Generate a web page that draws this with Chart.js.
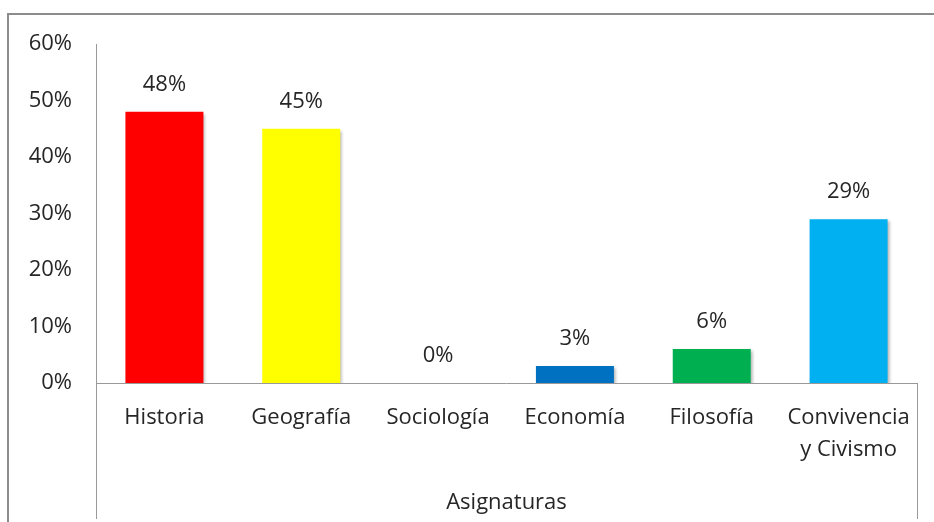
<!DOCTYPE html>
<html><head><meta charset="utf-8">
<script src="https://cdn.jsdelivr.net/npm/chart.js@4/dist/chart.umd.min.js"></script>
<style>html,body{margin:0;padding:0;background:#fff}#wrap{width:934px;height:522px;position:relative}</style>
</head><body><div id="wrap"><canvas id="c" width="934" height="522"></canvas></div>
<script>
const categories = ['Historia','Geografía','Sociología','Economía','Filosofía',['Convivencia','y Civismo']];
const values = [48, 45, 0, 3, 6, 29];
const barColors = ['#FF0000','#FFFF00','#7F7F7F','#0070C0','#00B050','#00B0F0'];
const yTicks = [0,10,20,30,40,50,60];
const axisTitle = 'Asignaturas';
const FONT = '"Open Sans", Lato, sans-serif';
const FS = 22;
const TXT = '#262626';

const framePlugin = {
  id:'frame',
  beforeDraw(chart){
    const ctx=chart.ctx; const a=chart.chartArea;
    ctx.save();
    ctx.strokeStyle='#8c8c8c'; ctx.lineWidth=2;
    ctx.beginPath(); ctx.moveTo(8,chart.height); ctx.lineTo(8,14); ctx.lineTo(chart.width,14); ctx.stroke();
    ctx.strokeStyle='#999'; ctx.lineWidth=1;
    ctx.beginPath();
    ctx.moveTo(a.left+0.5,a.top); ctx.lineTo(a.left+0.5,chart.height-3);
    ctx.moveTo(a.left,a.bottom+0.5); ctx.lineTo(a.right,a.bottom+0.5);
    ctx.moveTo(a.right+0.5,a.bottom); ctx.lineTo(a.right+0.5,chart.height-3);
    ctx.stroke();
    ctx.restore();
  },
  beforeDatasetsDraw(chart){
    const ctx=chart.ctx; ctx.save();
    ctx.shadowColor='rgba(0,0,0,0.3)'; ctx.shadowOffsetX=2; ctx.shadowOffsetY=2; ctx.shadowBlur=3;
  },
  afterDatasetsDraw(chart){
    const ctx=chart.ctx; ctx.restore();
    ctx.save();
    ctx.font=FS+'px '+FONT; ctx.fillStyle=TXT; ctx.textAlign='center'; ctx.textBaseline='middle';
    chart.getDatasetMeta(0).data.forEach((bar,i)=>{
      ctx.fillText(values[i]+'%', bar.x, bar.y-27);
    });
    ctx.restore();
  }
};

new Chart(document.getElementById('c'),{
  type:'bar',
  data:{labels:categories,datasets:[{data:values,backgroundColor:barColors,barPercentage:0.57,categoryPercentage:1}]},
  options:{
    responsive:false,animation:false,
    layout:{padding:{left:0,top:44,right:17,bottom:0}},
    plugins:{legend:{display:false},tooltip:{enabled:false}},
    scales:{
      x:{
        grid:{display:false,drawTicks:false},border:{display:false},
        ticks:{font:{size:FS,family:FONT,lineHeight:1.45},color:TXT,padding:19,maxRotation:0,autoSkip:false},
        title:{display:true,text:axisTitle,font:{size:FS,family:FONT},color:TXT,padding:{top:0,bottom:6}},
        afterFit(s){s.height=139;}
      },
      y:{
        min:0,max:60,
        grid:{display:false,drawTicks:false},border:{display:false},
        afterBuildTicks(s){s.ticks=yTicks.map(v=>({value:v}));},
        ticks:{font:{size:FS,family:FONT},color:TXT,padding:24,callback:v=>v+'%'},
        afterFit(s){s.width=96;}
      }
    }
  },
  plugins:[framePlugin]
});
</script></body></html>
